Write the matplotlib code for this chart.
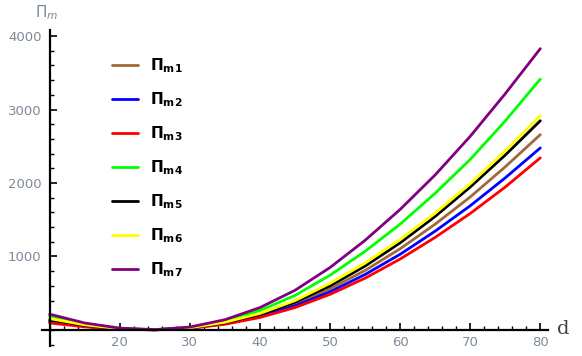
import numpy as np
import matplotlib
matplotlib.use("Agg")
import matplotlib.pyplot as plt
from matplotlib.ticker import MultipleLocator, FixedLocator

# values
d = [10, 15, 20, 25, 30, 35, 40, 45, 50, 55, 60, 65, 70, 75, 80]

pi_m1 = [130, 58, 14, 3, 26, 92, 200, 355, 560, 810, 1105, 1440, 1810, 2220, 2658]
pi_m2 = [115, 52, 12, 2, 24, 85, 185, 330, 520, 755, 1030, 1345, 1690, 2070, 2477]
pi_m3 = [95, 43, 10, 2, 22, 78, 170, 305, 485, 705, 965, 1260, 1585, 1945, 2342]
pi_m4 = [190, 85, 20, 4, 35, 120, 265, 470, 745, 1070, 1440, 1860, 2320, 2845, 3414]
pi_m5 = [140, 62, 15, 3, 28, 98, 212, 378, 600, 870, 1185, 1545, 1945, 2380, 2847]
pi_m6 = [155, 70, 17, 3, 30, 105, 225, 400, 635, 910, 1230, 1590, 1990, 2435, 2915]
pi_m7 = [215, 95, 25, 5, 40, 140, 305, 540, 850, 1220, 1640, 2110, 2635, 3215, 3828]

series = [pi_m1, pi_m2, pi_m3, pi_m4, pi_m5, pi_m6, pi_m7]
labels = ["m1", "m2", "m3", "m4", "m5", "m6", "m7"]
colors = ["#a0693a", "#0000ff", "#ff0000", "#00ff00", "#000000", "#ffff00", "#800080"]

fig = plt.figure(figsize=(5.82, 3.56), dpi=100)
ax = fig.add_axes([42 / 582, 10 / 356, 506 / 582, 316 / 356])

for vals, lab, col in zip(series, labels, colors):
    ax.plot(d, vals, color=col, lw=2.0, solid_capstyle="round",
            label=r"$\mathbf{\Pi}_{\mathbf{" + lab + "}}$")

ax.set_xlim(8.9, 81.1)
ax.set_ylim(-218, 4082)

# mathematica-style axes crossing at (10, 0)
for s in ["top", "right"]:
    ax.spines[s].set_visible(False)
ax.spines["left"].set_position(("data", 10))
ax.spines["bottom"].set_position(("data", 0))
ax.spines["left"].set_linewidth(1.6)
ax.spines["bottom"].set_linewidth(1.6)

ax.xaxis.set_major_locator(FixedLocator([20, 30, 40, 50, 60, 70, 80]))
ax.xaxis.set_minor_locator(MultipleLocator(2))
ax.yaxis.set_major_locator(FixedLocator([1000, 2000, 3000, 4000]))
ax.yaxis.set_minor_locator(MultipleLocator(200))
ax.tick_params(axis="both", which="major", direction="in", length=5, width=1.2,
               labelsize=9.5, labelcolor="#7f8a99")
ax.tick_params(axis="both", which="minor", direction="in", length=3, width=1.0)
ax.tick_params(axis="x", which="major", pad=4)
ax.tick_params(axis="y", which="major", pad=6)

fig.text(35 / 582, 1 - 13 / 356, r"$\Pi_m$", color="#7f8a99", fontsize=11,
         ha="left", va="center")
fig.text(557 / 582, 1 - 329 / 356, "d", family="DejaVu Serif", fontsize=14,
         color="#444444", ha="left", va="center")

ax.legend(loc="upper left", bbox_to_anchor=(98 / 582, 1 - 43 / 356),
          bbox_transform=fig.transFigure, frameon=False, fontsize=11,
          handlelength=1.7, handletextpad=0.8, labelspacing=1.0)

fig.savefig("out.png", dpi=100)
